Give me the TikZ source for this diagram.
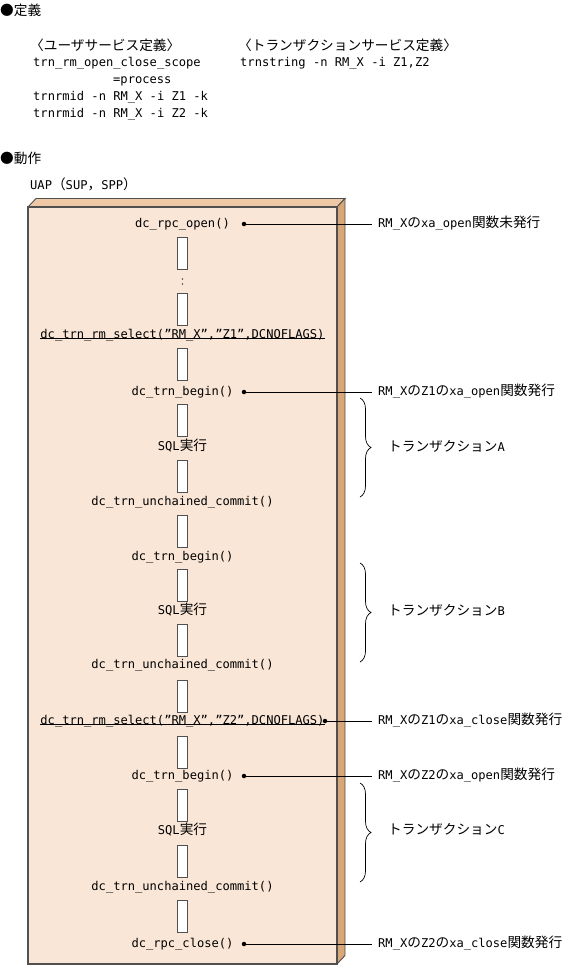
\documentclass[tikz,border=0pt]{standalone}
\usepackage{fontspec}
\setmainfont{DejaVu Sans Mono}
\newfontfamily\jp[Scale=1.13]{Noto Sans CJK JP}
\usetikzlibrary{decorations.pathreplacing}
\definecolor{facefront}{HTML}{F9E6D6}
\definecolor{facetop}{HTML}{EFC8A6}
\definecolor{faceside}{HTML}{D9A678}
\definecolor{edge}{HTML}{505050}
\begin{document}
\begin{tikzpicture}[x=1pt,y=-1pt,
  every node/.style={font=\fontsize{12.1}{14}\selectfont, inner sep=0pt, text height=8.5pt, text depth=2pt},
  txt/.style={anchor=west},
  call/.style={anchor=center},
  blk/.style={draw=edge, fill=white, line width=0.8pt},
  dot/.style={circle, fill=black, minimum size=4.5pt, inner sep=0pt, text height=0pt, text depth=0pt},
  lead/.style={line width=0.7pt, black},
  brc/.style={decorate, decoration={brace, amplitude=11pt}, line width=0.7pt},
  uline/.style={line width=0.8pt}
]
\useasboundingbox (0,0) rectangle (568,967);

% definitions
\node[txt] (h1) at (0,12) {\jp ●定義};
\node[txt] (u1) at (30,47) {\jp 〈ユーザサービス定義〉};
\node[txt] (u2) at (33,63) {trn\_rm\_open\_close\_scope};
\node[txt] (u3) at (113,80) {=process};
\node[txt] (u4) at (33,97) {trnrmid -n RM\_X -i Z1 -k};
\node[txt] (u5) at (33,114) {trnrmid -n RM\_X -i Z2 -k};
\node[txt] (t1) at (238,47) {\jp 〈トランザクションサービス定義〉};
\node[txt] (t2) at (240,63) {trnstring -n RM\_X -i Z1,Z2};

\node[txt] (h2) at (0,160) {\jp ●動作};
\node[txt] (uap) at (30,186) {UAP{\jp （}SUP{\jp ，}SPP{\jp ）}};

% 3D box
\filldraw[fill=facetop, draw=edge, line width=0.9pt] (28,207) -- (36,198.5) -- (345,198.5) -- (337,207) -- cycle;
\filldraw[fill=faceside, draw=edge, line width=0.9pt] (337,207) -- (345,198.5) -- (345,955.5) -- (337,964) -- cycle;
\filldraw[fill=facefront, draw=edge, line width=1.1pt] (28,207) rectangle (337,964);

% process blocks
\foreach \t in {237,293,348,404,460,515,569,624,680,736,789,845,900}
  \filldraw[blk] (177.5,\t) rectangle ++(10,32);
\fill[edge] (182.5,279) circle (0.8);
\fill[edge] (182.5,284) circle (0.8);

% calls
\node[call] (c1) at (182.5,224) {dc\_rpc\_open()};
\node[call] (c2) at (182.5,335) {dc\_trn\_rm\_select(”RM\_X”,”Z1”,DCNOFLAGS)};
\draw[uline] ([yshift=2.5pt]c2.south west) -- ([yshift=2.5pt]c2.south east);
\node[call] (c3) at (182.5,392) {dc\_trn\_begin()};
\node[call] (c4) at (182.5,447) {SQL{\jp 実行}};
\node[call] (c5) at (182.5,502) {dc\_trn\_unchained\_commit()};
\node[call] (c6) at (182.5,557) {dc\_trn\_begin()};
\node[call] (c7) at (182.5,611) {SQL{\jp 実行}};
\node[call] (c8) at (182.5,665) {dc\_trn\_unchained\_commit()};
\node[call] (c9) at (182.5,721) {dc\_trn\_rm\_select(”RM\_X”,”Z2”,DCNOFLAGS)};
\draw[uline] ([yshift=2.5pt]c9.south west) -- ([yshift=2.5pt]c9.south east);
\node[call] (c10) at (182.5,776) {dc\_trn\_begin()};
\node[call] (c11) at (182.5,831) {SQL{\jp 実行}};
\node[call] (c12) at (182.5,887) {dc\_trn\_unchained\_commit()};
\node[call] (c13) at (182.5,944) {dc\_rpc\_close()};

% leaders
\node[dot] (d1) at (244,224) {};
\node[dot] (d2) at (244,392) {};
\node[dot] (d3) at (325,721) {};
\node[dot] (d4) at (244,776) {};
\node[dot] (d5) at (244,944) {};
\node[txt] (l1) at (378,224) {RM\_X{\jp の}xa\_open{\jp 関数未発行}};
\node[txt] (l2) at (378,392) {RM\_X{\jp の}Z1{\jp の}xa\_open{\jp 関数発行}};
\node[txt] (l3) at (378,721) {RM\_X{\jp の}Z1{\jp の}xa\_close{\jp 関数発行}};
\node[txt] (l4) at (378,776) {RM\_X{\jp の}Z2{\jp の}xa\_open{\jp 関数発行}};
\node[txt] (l5) at (378,944) {RM\_X{\jp の}Z2{\jp の}xa\_close{\jp 関数発行}};
\draw[lead] (d1.center) -- ([xshift=-6pt]l1.west);
\draw[lead] (d2.center) -- ([xshift=-6pt]l2.west);
\draw[lead] (d3.center) -- ([xshift=-6pt]l3.west);
\draw[lead] (d4.center) -- ([xshift=-6pt]l4.west);
\draw[lead] (d5.center) -- ([xshift=-6pt]l5.west);

% braces
\draw[brc] (360,398) -- (360,497);
\draw[brc] (360,563) -- (360,662);
\draw[brc] (360,783) -- (360,882);
\node[txt] (ta) at (388,448) {{\jp トランザクション}A};
\node[txt] (tb) at (388,612) {{\jp トランザクション}B};
\node[txt] (tc) at (388,831) {{\jp トランザクション}C};
\end{tikzpicture}
\end{document}
